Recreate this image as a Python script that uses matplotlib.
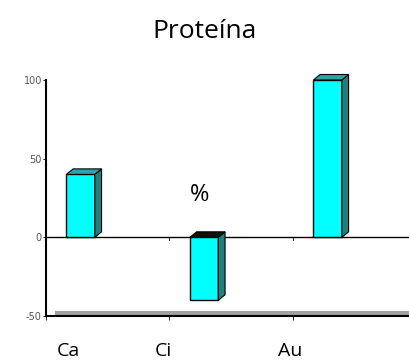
import matplotlib
matplotlib.use("Agg")
import matplotlib.pyplot as plt
from matplotlib.patches import Polygon

categories = ["Ca", "Ci", "Au"]
values = [40, -40, 100]
y_ticks = [-50, 0, 50, 100]

plt.rcParams['font.family'] = ['Open Sans', 'DejaVu Sans']

fig = plt.figure(figsize=(4.10, 3.61), dpi=100)
W, H = 410, 361
ax = fig.add_axes([46 / W, (H - 316) / H, (W - 46) / W, (316 - 80) / H])

ax.set_ylim(-50, 100)
ax.set_xlim(0, (W - 46) / 123.5)

face = "#00ffff"
side = "#1f7f7f"
top = "#2aa5a5"
off = 0.28
bw = 0.23
dx = 0.055
dy = 3.5

for i, v in enumerate(values):
    x0 = i + off - bw / 2
    x1 = x0 + bw
    ax.bar(i + off, v, width=bw, color=face, edgecolor="black", linewidth=1.0, zorder=3, clip_on=False)
    hi = max(v, 0)
    lo = min(v, 0)
    ax.add_patch(Polygon([(x1, lo), (x1 + dx, lo + dy), (x1 + dx, hi + dy), (x1, hi)],
                         closed=True, facecolor=side, edgecolor="black", linewidth=0.8,
                         zorder=3, clip_on=False))
    tc = top if v > 0 else "#111111"
    ax.add_patch(Polygon([(x0, hi), (x0 + dx, hi + dy), (x1 + dx, hi + dy), (x1, hi)],
                         closed=True, facecolor=tc, edgecolor="black", linewidth=0.8,
                         zorder=3, clip_on=False))

# floor
ax.plot([0.07, 3.0], [-48, -48], color="#a0a0a0", linewidth=3, zorder=2, solid_capstyle="butt")
ax.axhline(0, color="black", linewidth=1.0, zorder=2)
for i in range(1, len(categories)):
    ax.plot([i, i], [0, -2], color="black", linewidth=0.6)

for s in ["top", "right"]:
    ax.spines[s].set_visible(False)
ax.spines["left"].set_linewidth(1.5)
ax.spines["bottom"].set_linewidth(1.5)

ax.set_yticks(y_ticks)
ax.set_yticklabels([str(t) for t in y_ticks], fontsize=7, color="#555555",
                   family=["Liberation Sans Narrow", "DejaVu Sans"])
ax.tick_params(axis="y", length=2, width=0.6, pad=1)
ax.set_xticks(range(len(categories)))
ax.set_xticklabels([])
ax.tick_params(axis="x", length=3, width=0.6)

label_x = [68, 163, 290]
for lx, c in zip(label_x, categories):
    fig.text(lx / W, 1 - 351 / H, c, ha="center", va="center", fontsize=14)

fig.text(200 / W, 1 - 195 / H, "%", ha="center", va="center", fontsize=17)
fig.text(205 / W, 1 - 32 / H, "Proteína", ha="center", va="center", fontsize=19)

fig.savefig("out.png", dpi=100)
